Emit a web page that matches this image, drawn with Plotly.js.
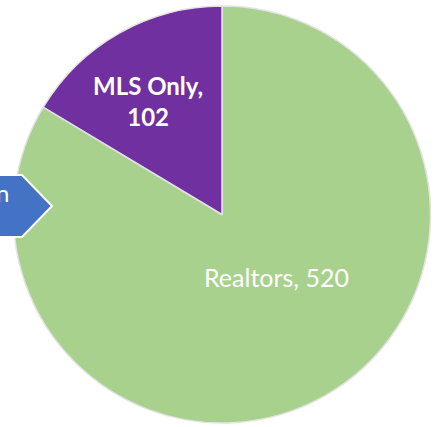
<!DOCTYPE html>
<html>
<head>
<meta charset="utf-8">
<script src="https://cdn.plot.ly/plotly-3.0.1.min.js"></script>
<style>html,body{margin:0;padding:0;background:#fff;}#chart{width:441px;height:427px;}</style>
</head>
<body>
<div id="chart"></div>
<script>
// Data
var labels = ['Realtors', 'MLS Only'];
var values = [520, 102];
var colors = ['#A9D18E', '#7030A0'];
var calloutText = 'n';

var W = 441, H = 427;
function px(x) { return x / W; }
function py(y) { return 1 - y / H; }

var trace = {
  type: 'pie',
  labels: labels,
  values: values,
  sort: false,
  direction: 'clockwise',
  rotation: 0,
  textinfo: 'none',
  hoverinfo: 'label+value',
  marker: { colors: colors, line: { color: '#e3e3e3', width: 1.5 } },
  domain: { x: [px(222 - 208.5), px(222 + 208.5)], y: [py(214.5 + 208.5), py(214.5 - 208.5)] },
  showlegend: false
};

var FONT = 'Lato, "Open Sans", sans-serif';
var annotations = [
  { x: px(276), y: py(277), xref: 'paper', yref: 'paper', showarrow: false,
    xanchor: 'center', yanchor: 'middle',
    text: labels[0] + ', ' + values[0],
    font: { family: FONT, size: 25, color: '#ffffff' } },
  { x: px(148), y: py(101), xref: 'paper', yref: 'paper', showarrow: false,
    xanchor: 'center', yanchor: 'middle',
    text: '<b>' + labels[1] + ',</b><br><b>' + values[1] + '</b>',
    font: { family: FONT, size: 24, color: '#ffffff' } },
  { x: px(11), y: py(192), xref: 'paper', yref: 'paper', showarrow: false,
    xanchor: 'right', yanchor: 'middle',
    text: calloutText,
    font: { family: FONT, size: 24, color: '#ffffff' } }
];

var shapes = [
  { type: 'path', xref: 'paper', yref: 'paper',
    path: 'M ' + px(-5) + ' ' + py(175) + ' L ' + px(22) + ' ' + py(175) + ' L ' + px(52) + ' ' + py(206) +
          ' L ' + px(22) + ' ' + py(237) + ' L ' + px(-5) + ' ' + py(237) + ' Z',
    fillcolor: '#4472C4', line: { color: '#ffffff', width: 2 }, layer: 'above' }
];

var layout = {
  width: W, height: H,
  margin: { l: 0, r: 0, t: 0, b: 0 },
  paper_bgcolor: '#ffffff',
  plot_bgcolor: '#ffffff',
  shapes: shapes,
  annotations: annotations
};

Plotly.newPlot('chart', [trace], layout, { displayModeBar: false, staticPlot: true });
</script>
</body>
</html>
